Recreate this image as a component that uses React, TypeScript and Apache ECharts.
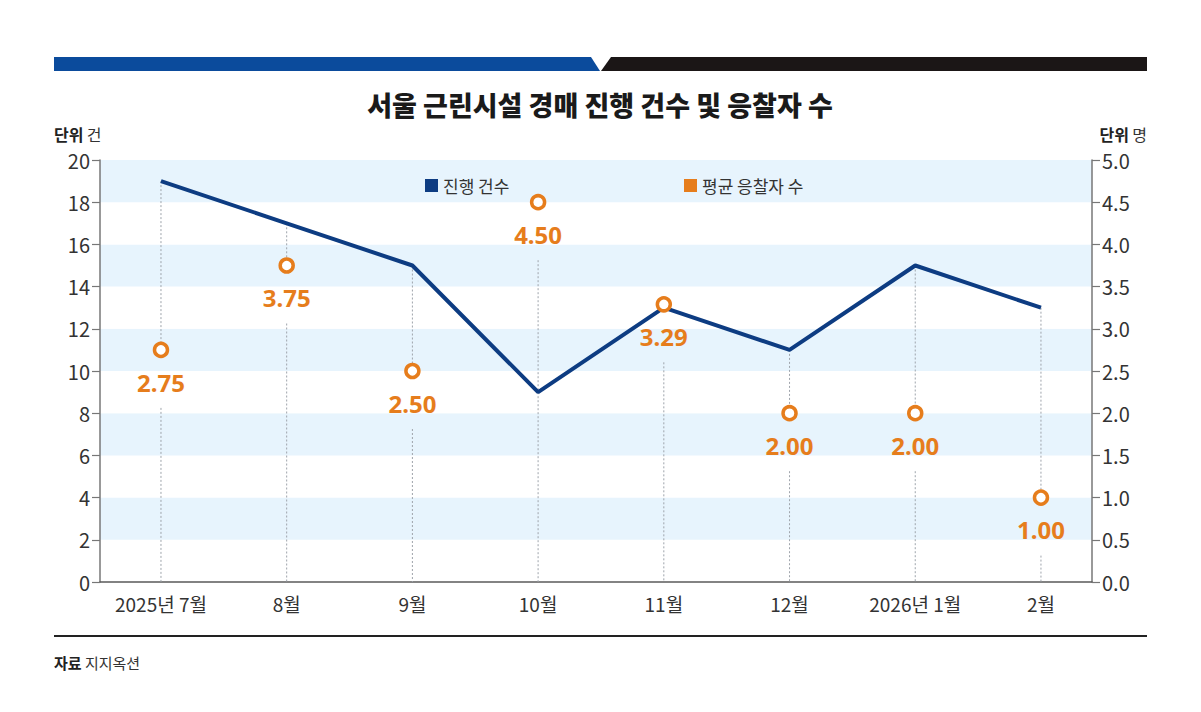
import React, { useEffect, useRef } from "react";
import * as echarts from "echarts";

const categories = ["2025년 7월", "8월", "9월", "10월", "11월", "12월", "2026년 1월", "2월"];
const auctionCounts = [19, 17, 15, 9, 13, 11, 15, 13];
const avgBidders = [2.75, 3.75, 2.5, 4.5, 3.29, 2.0, 2.0, 1.0];
const leftMax = 20;
const leftInterval = 2;
const rightMax = 5;
const rightInterval = 0.5;

const seriesNames = ["진행 건수", "평균 응찰자 수"];
const titleText = "서울 근린시설 경매 진행 건수 및 응찰자 수";

const NAVY = "#0d3c82";
const ORANGE = "#e67d1c";
const BAND = "#e7f4fd";
const FONT = "'Noto Sans CJK KR', 'Noto Sans', sans-serif";
const AXFONT = "'Liberation Sans Narrow', 'Noto Sans CJK KR', sans-serif";

export default function App() {
  const ref = useRef<HTMLDivElement>(null);

  useEffect(() => {
    if (!ref.current) return;
    const chart = echarts.init(ref.current, null, { renderer: "svg" });
    const ratio = leftMax / rightMax;

    const option: any = {
      animation: false,
      backgroundColor: "#ffffff",
      grid: { left: 100, right: 109, top: 160, bottom: 130, containLabel: false },
      legend: [
        {
          left: 420,
          top: 172,
          icon: "rect",
          itemWidth: 13,
          itemHeight: 13,
          itemGap: 6,
          textStyle: { fontFamily: FONT, fontSize: 17, color: "#333" },
          data: [{ name: seriesNames[0], itemStyle: { color: NAVY } }],
        },
        {
          left: 679,
          top: 172,
          icon: "rect",
          itemWidth: 13,
          itemHeight: 13,
          itemGap: 6,
          textStyle: { fontFamily: FONT, fontSize: 17, color: "#333" },
          data: [{ name: seriesNames[1], itemStyle: { color: ORANGE, borderWidth: 0, opacity: 1 } }],
        },
      ],
      xAxis: {
        type: "value",
        min: -0.485,
        max: 7.406,
        splitLine: { show: false },
        axisTick: { show: false },
        axisLine: { show: true, onZero: false, lineStyle: { color: "#5a5a5a", width: 1.5 } },
        axisLabel: {
          customValues: categories.map((_, i) => i),
          formatter: (v: number) => categories[Math.round(v)] ?? "",
          color: "#333",
          fontFamily: AXFONT,
          fontSize: 19,
          margin: 12,
        },
      },
      yAxis: [
        {
          type: "value",
          min: 0,
          max: leftMax,
          interval: leftInterval,
          position: "left",
          axisLine: { show: true, onZero: false, lineStyle: { color: "#777", width: 1.5 } },
          axisTick: { show: true, length: 8, lineStyle: { color: "#777", width: 1.2 } },
          axisLabel: { color: "#333", fontFamily: AXFONT, fontSize: 20, margin: 10 },
          splitLine: { show: false },
          splitArea: { show: true, areaStyle: { color: ["#ffffff", BAND] } },
        },
        {
          type: "value",
          min: 0,
          max: rightMax,
          interval: rightInterval,
          position: "right",
          axisLine: { show: true, onZero: false, lineStyle: { color: "#777", width: 1.5 } },
          axisTick: { show: true, length: 8, lineStyle: { color: "#777", width: 1.2 } },
          axisLabel: {
            color: "#333",
            fontFamily: AXFONT,
            fontSize: 20,
            margin: 10,
            formatter: (v: number) => v.toFixed(1),
          },
          splitLine: { show: false },
          splitArea: { show: false },
        },
      ],
      series: [
        {
          name: "guides",
          type: "custom",
          xAxisIndex: 0,
          yAxisIndex: 0,
          z: 1,
          silent: true,
          data: categories.map((_, i) => [i, auctionCounts[i], avgBidders[i]]),
          encode: { x: 0, y: 1 },
          renderItem: (_params: any, api: any) => {
            const i = api.value(0);
            const c = api.value(1);
            const b = api.value(2);
            const base = api.coord([i, 0]);
            const pl = api.coord([i, c]);
            const pm = api.coord([i, b * ratio]);
            const style = { stroke: "#9ea4ab", lineWidth: 1, lineDash: [2, 2], fill: null };
            const children: any[] = [];
            if (pm[1] - pl[1] > 12) {
              children.push({
                type: "line",
                shape: { x1: pl[0], y1: pl[1], x2: pl[0], y2: pm[1] - 8 },
                style,
              });
            }
            children.push({
              type: "line",
              shape: { x1: base[0], y1: pm[1] + 58, x2: base[0], y2: base[1] },
              style,
            });
            return { type: "group", children };
          },
        },
        {
          name: seriesNames[0],
          type: "line",
          yAxisIndex: 0,
          z: 3,
          color: NAVY,
          symbol: "none",
          lineStyle: { color: NAVY, width: 4 },
          data: auctionCounts.map((v, i) => [i, v]),
        },
        {
          name: seriesNames[1],
          type: "scatter",
          yAxisIndex: 1,
          z: 4,
          color: ORANGE,
          symbol: "circle",
          symbolSize: 13,
          itemStyle: { color: "#ffffff", borderColor: ORANGE, borderWidth: 3.5, opacity: 1 },
          label: {
            show: true,
            position: "bottom",
            distance: 12,
            formatter: (p: any) => Number(p.value[1]).toFixed(2),
            color: ORANGE,
            fontFamily: "'Noto Sans', sans-serif",
            fontWeight: "bold",
            fontSize: 24,
          },
          data: avgBidders.map((v, i) => [i, v]),
        },
      ],
      graphic: [
        {
          type: "polygon",
          shape: { points: [[54, 57], [591, 57], [600, 71], [54, 71]] },
          style: { fill: "#0b4b9c" },
        },
        {
          type: "polygon",
          shape: { points: [[611, 57], [1147, 57], [1147, 71], [601, 71]] },
          style: { fill: "#1b1616" },
        },
        {
          type: "text",
          x: 600,
          y: 104,
          style: {
            text: titleText,
            fontFamily: FONT,
            fontSize: 27,
            fontWeight: 900,
            fill: "#1a1a1a",
            align: "center",
            verticalAlign: "middle",
          },
        },
        {
          type: "text",
          x: 54,
          y: 134,
          style: {
            text: "{b|단위} {n|건}",
            rich: {
              b: { fontFamily: FONT, fontSize: 16, fontWeight: "bold", fill: "#222" },
              n: { fontFamily: FONT, fontSize: 16, fill: "#333" },
            },
            verticalAlign: "middle",
          },
        },
        {
          type: "text",
          x: 1147,
          y: 134,
          style: {
            text: "{b|단위} {n|명}",
            rich: {
              b: { fontFamily: FONT, fontSize: 16, fontWeight: "bold", fill: "#222" },
              n: { fontFamily: FONT, fontSize: 16, fill: "#333" },
            },
            align: "right",
            verticalAlign: "middle",
          },
        },
        {
          type: "line",
          shape: { x1: 54, y1: 636, x2: 1147, y2: 636 },
          style: { stroke: "#222", lineWidth: 2 },
        },
        {
          type: "text",
          x: 54,
          y: 662,
          style: {
            text: "{b|자료} {n|지지옥션}",
            rich: {
              b: { fontFamily: FONT, fontSize: 15, fontWeight: "bold", fill: "#222" },
              n: { fontFamily: FONT, fontSize: 15, fill: "#333" },
            },
            verticalAlign: "middle",
          },
        },
      ],
    };

    chart.setOption(option);
    return () => chart.dispose();
  }, []);

  return (
    <div
      ref={ref}
      style={{ position: "fixed", left: 0, top: 0, width: 1201, height: 712, background: "#fff" }}
    />
  );
}
